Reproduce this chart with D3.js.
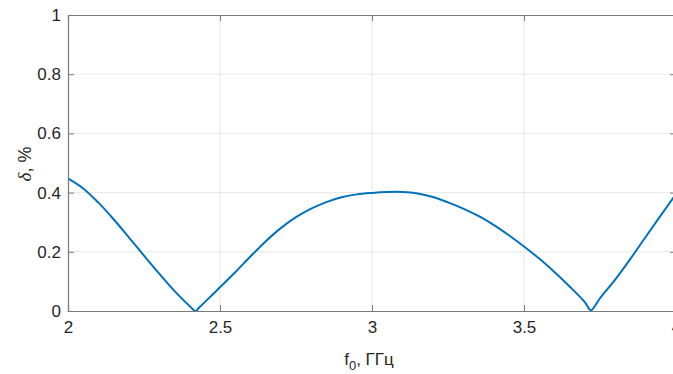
<!DOCTYPE html>
<html>
<head>
<meta charset="utf-8">
<script src="https://cdn.jsdelivr.net/npm/d3@7"></script>
<style>
  body { margin: 0; background: #fff; }
  text { font-family: "Liberation Sans", Arial, Helvetica, sans-serif; }
</style>
</head>
<body>
<div id="chart"></div>
<script>
// Data
const freq = [2.00, 2.05, 2.10, 2.15, 2.20, 2.25, 2.30, 2.35, 2.40, 2.42, 2.43, 2.45,
              2.50, 2.55, 2.60, 2.65, 2.70, 2.75, 2.80, 2.85, 2.90, 2.95, 3.00, 3.05,
              3.10, 3.15, 3.20, 3.25, 3.30, 3.35, 3.40, 3.45, 3.50, 3.55, 3.60, 3.65,
              3.70, 3.72, 3.73, 3.75, 3.80, 3.85, 3.90, 3.95, 4.00];
const delta = [0.448, 0.414, 0.366, 0.310, 0.249, 0.187, 0.126, 0.068, 0.017, 0.000, 0.010, 0.030,
               0.080, 0.131, 0.184, 0.235, 0.280, 0.317, 0.346, 0.368, 0.384, 0.394, 0.399, 0.402,
               0.402, 0.397, 0.385, 0.367, 0.346, 0.321, 0.291, 0.256, 0.218, 0.177, 0.132, 0.083,
               0.030, 0.002, 0.012, 0.043, 0.106, 0.176, 0.250, 0.323, 0.395];
const xTicks = [2, 2.5, 3, 3.5, 4];
const yTicks = [0, 0.2, 0.4, 0.6, 0.8, 1];

// Dimensions
const width = 673;
const height = 374;
const margin = {left: 68, right: -3, top: 15, bottom: 63};
const tickLen = 6;

const svg = d3.select("#chart")
  .append("svg")
  .attr("width", width)
  .attr("height", height);

const xScale = d3.scaleLinear()
  .domain([2, 4])
  .range([margin.left, width - margin.right]);

const yScale = d3.scaleLinear()
  .domain([0, 1])
  .range([height - margin.bottom, margin.top]);

const x0 = xScale.range()[0], x1 = xScale.range()[1];
const y0 = yScale.range()[0], y1 = yScale.range()[1];

// Grid
svg.append("g").selectAll("line.vg")
  .data(xTicks.slice(1, -1))
  .enter().append("line")
  .attr("x1", d => xScale(d)).attr("x2", d => xScale(d))
  .attr("y1", y0).attr("y2", y1)
  .attr("stroke", "#e8e8e8").attr("stroke-width", 1);

svg.append("g").selectAll("line.hg")
  .data(yTicks.slice(1, -1))
  .enter().append("line")
  .attr("x1", x0).attr("x2", x1)
  .attr("y1", d => yScale(d)).attr("y2", d => yScale(d))
  .attr("stroke", "#e8e8e8").attr("stroke-width", 1);

// Curve
const line = d3.line()
  .x((d, i) => xScale(freq[i]))
  .y(d => yScale(d))
  .curve(d3.curveCatmullRom.alpha(0.5));

svg.append("path")
  .datum(delta)
  .attr("d", line)
  .attr("fill", "none")
  .attr("stroke", "#0072BD")
  .attr("stroke-width", 2)
  .attr("stroke-linejoin", "round");

// Axes (MATLAB style: ticks inside, box on)
const axisColor = "#7a7a7a";
const labelColor = "#262626";

const axBottom = svg.append("g")
  .attr("transform", `translate(0,${y0})`)
  .call(d3.axisBottom(xScale).tickValues(xTicks).tickSize(-tickLen).tickPadding(10)
        .tickFormat(d3.format("")));
const axTop = svg.append("g")
  .attr("transform", `translate(0,${y1})`)
  .call(d3.axisTop(xScale).tickValues(xTicks).tickSize(-tickLen).tickFormat(""));
const axLeft = svg.append("g")
  .attr("transform", `translate(${x0},0)`)
  .call(d3.axisLeft(yScale).tickValues(yTicks).tickSize(-tickLen).tickPadding(7)
        .tickFormat(d3.format("")));
const axRight = svg.append("g")
  .attr("transform", `translate(${x1},0)`)
  .call(d3.axisRight(yScale).tickValues(yTicks).tickSize(-tickLen).tickFormat(""));

[axBottom, axTop, axLeft, axRight].forEach(g => {
  g.select(".domain").attr("stroke", axisColor).attr("stroke-width", 1.2);
  g.selectAll(".tick line").attr("stroke", axisColor).attr("stroke-width", 1);
  g.selectAll(".tick text")
    .attr("fill", labelColor)
    .attr("font-size", "17px")
    .style("font-family", "'Liberation Sans', Arial, sans-serif");
});

// Axis labels
const xl = svg.append("text")
  .attr("x", (x0 + x1) / 2 - 3)
  .attr("y", 365)
  .attr("text-anchor", "middle")
  .attr("fill", labelColor)
  .attr("font-size", "17px");
xl.append("tspan").text("f");
xl.append("tspan").attr("font-size", "13px").attr("dy", 5).text("0");
xl.append("tspan").attr("dy", -5).text(", ГГц");

const yl = svg.append("text")
  .attr("transform", `translate(31,164) rotate(-90)`)
  .attr("text-anchor", "middle")
  .attr("fill", labelColor)
  .attr("font-size", "18px");
yl.append("tspan").attr("font-style", "italic")
  .style("font-family", "'Liberation Serif', 'DejaVu Serif', serif").attr("font-size", "19px").text("δ");
yl.append("tspan").text(", %");
</script>
</body>
</html>
